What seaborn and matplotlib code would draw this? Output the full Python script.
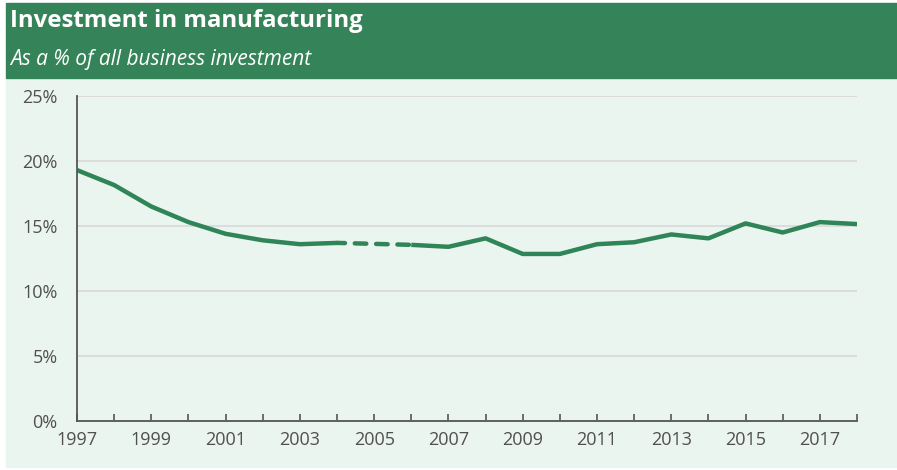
import numpy as np
import pandas as pd
import matplotlib
matplotlib.use("Agg")
import matplotlib.pyplot as plt
import seaborn as sns

# Manufacturing share of business investment (%), 2005 not available
years = list(range(1997, 2019))
share = [19.3, 18.15, 16.5, 15.3, 14.4, 13.9, 13.6, 13.7, np.nan, 13.55, 13.4,
         14.05, 12.85, 12.85, 13.6, 13.75, 14.35, 14.05, 15.2, 14.5, 15.3, 15.15]
x_ticks = list(range(1997, 2019, 2))
y_ticks = [0, 5, 10, 15, 20, 25]
title = "Investment in manufacturing"
subtitle = "As a % of all business investment"

GREEN = "#358459"
LINE = "#2f8458"
PANEL = "#ebf5ef"
TEXT = "#505050"

sns.set_theme(style="white")
plt.rcParams["font.family"] = ["Open Sans", "DejaVu Sans"]

df = pd.DataFrame({"year": years, "share": share})
before = df[df["year"] <= 2004]
after = df[df["year"] >= 2006]
gap = df[df["year"].isin([2004, 2006])]

W, H = 897, 470
fig = plt.figure(figsize=(W / 100, H / 100), dpi=100)
fig.patch.set_facecolor("white")

# header band and chart panel
fig.patches.append(plt.Rectangle((6 / W, 3 / H), 1 - 6 / W, (467 - 78) / H,
                                 transform=fig.transFigure, color=PANEL, zorder=-2))
fig.patches.append(plt.Rectangle((6 / W, 1 - 78 / H), 1 - 6 / W, 75 / H,
                                 transform=fig.transFigure, color=GREEN, zorder=-2))
fig.text(10 / W, 1 - 21 / H, title, color="white", fontsize=17.3, fontweight="bold",
         va="center", ha="left")
fig.text(10 / W, 1 - 59 / H, subtitle, color="white", fontsize=15, style="italic",
         va="center", ha="left")

ax = fig.add_axes([77 / W, (H - 421) / H, (857 - 77) / W, (421 - 96) / H])
ax.set_zorder(2)
ax.set_facecolor("none")

sns.lineplot(data=before, x="year", y="share", ax=ax, color=LINE, linewidth=3.2,
             solid_capstyle="butt")
sns.lineplot(data=after, x="year", y="share", ax=ax, color=LINE, linewidth=3.2,
             solid_capstyle="butt")
ax.plot(gap["year"], gap["share"], color=LINE, linewidth=3.2, linestyle=(0.8, (2.6, 2.2)),
        dash_capstyle="round")

ax.set_xlim(1997, 2018)
ax.set_ylim(0, 25)
ax.set_xticks(range(1997, 2019))
ax.set_xticklabels([str(y) if y in x_ticks else "" for y in range(1997, 2019)])
ax.set_yticks(y_ticks)
ax.set_yticklabels([f"{v}%" for v in y_ticks])
ax.set_xlabel("")
ax.set_ylabel("")

ax.grid(axis="y", color="#d8d8d8", linewidth=1.2)
ax.grid(axis="x", visible=False)
ax.set_axisbelow(True)
for side in ["top", "right"]:
    ax.spines[side].set_visible(False)
for side in ["left", "bottom"]:
    ax.spines[side].set_color("#555555")
    ax.spines[side].set_linewidth(1.3)

ax.tick_params(axis="x", direction="in", length=5, width=1.2, color="#555555",
               labelsize=13, labelcolor=TEXT, pad=7, bottom=True)
ax.tick_params(axis="y", length=0, labelsize=13, labelcolor=TEXT, pad=14, left=False)

fig.savefig("out.png", dpi=100, facecolor="white")
